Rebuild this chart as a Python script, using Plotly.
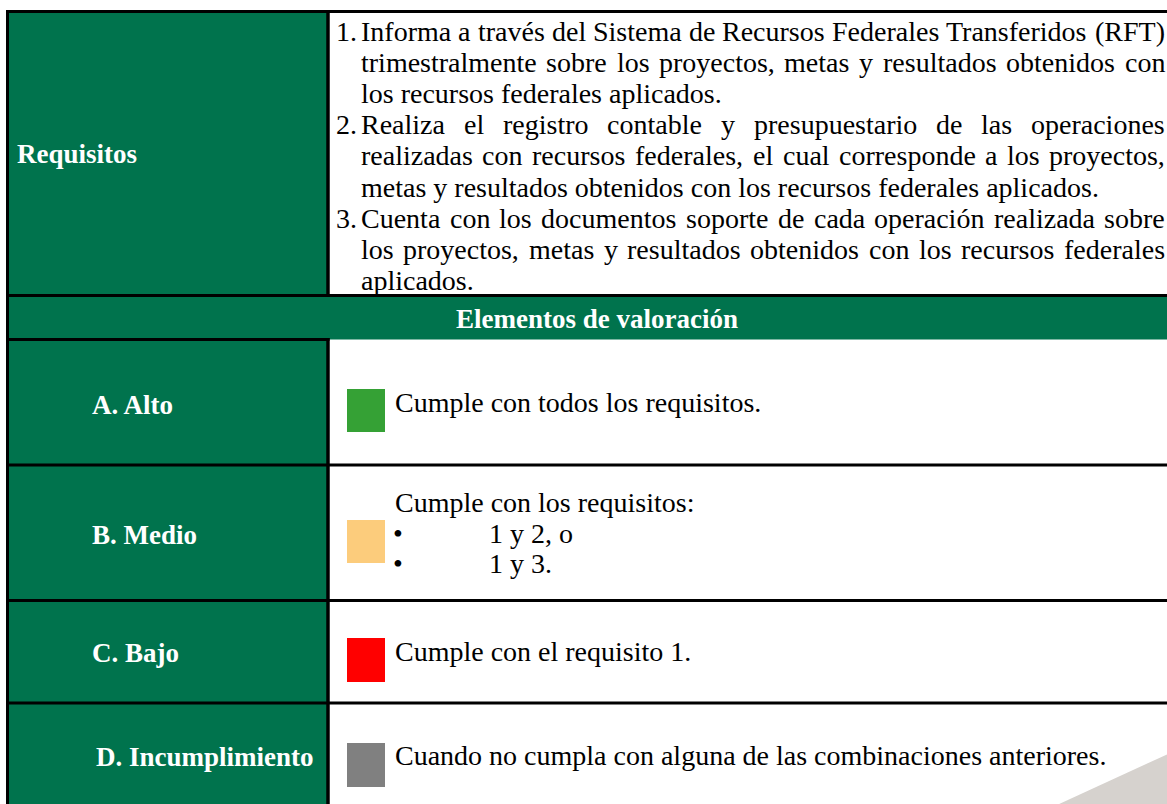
import plotly.graph_objects as go

W, H = 1167, 804

# ---------------- data (text content) ----------------
req_label = "Requisitos"
req_numbers = ["1.", "2.", "3."]
req_item1 = ["Informa a través del Sistema de Recursos Federales Transferidos (RFT)",
             "trimestralmente sobre los proyectos, metas y resultados obtenidos con",
             "los recursos federales aplicados."]
req_item2 = ["Realiza el registro contable y presupuestario de las operaciones",
             "realizadas con recursos federales, el cual corresponde a los proyectos,",
             "metas y resultados obtenidos con los recursos federales aplicados."]
req_item3 = ["Cuenta con los documentos soporte de cada operación realizada sobre",
             "los proyectos, metas y resultados obtenidos con los recursos federales",
             "aplicados."]
header_label = "Elementos de valoración"
levels = ["A. Alto", "B. Medio", "C. Bajo", "D. Incumplimiento"]
level_colors = ["#35A135", "#FCCC7C", "#FF0000", "#808080"]
level_texts = [["Cumple con todos los requisitos."],
               ["Cumple con los requisitos:"],
               ["Cumple con el requisito 1."],
               ["Cuando no cumpla con alguna de las combinaciones anteriores."]]
medio_bullets = ["1 y 2, o", "1 y 3."]

# ---------------- style ----------------
GREEN = "#00734D"
BODY_FONT = "Liberation Serif"
BODY_SIZE = 28
LABEL_SIZE = 27

TIMES = {' ': 250, ',': 250, '.': 250, '(': 333, ')': 333, ':': 278,
         'A': 722, 'B': 667, 'C': 667, 'D': 722, 'E': 611, 'F': 556, 'G': 722, 'H': 722,
         'I': 333, 'J': 389, 'K': 722, 'L': 611, 'M': 889, 'N': 722, 'O': 722, 'P': 556,
         'Q': 722, 'R': 667, 'S': 556, 'T': 611, 'U': 722, 'V': 722, 'W': 944, 'X': 722,
         'Y': 722, 'Z': 611,
         'a': 444, 'b': 500, 'c': 444, 'd': 500, 'e': 444, 'f': 333, 'g': 500, 'h': 500,
         'i': 278, 'j': 278, 'k': 500, 'l': 278, 'm': 778, 'n': 500, 'o': 500, 'p': 500,
         'q': 500, 'r': 333, 's': 389, 't': 278, 'u': 500, 'v': 500, 'w': 722, 'x': 500,
         'y': 500, 'z': 444, 'á': 444, 'é': 444, 'í': 278, 'ó': 500, 'ú': 500, 'ñ': 500}


def tw(s, size):
    return sum(TIMES.get(c, 500) for c in s) / 1000.0 * size


fig = go.Figure()
shapes = []
annotations = []


def rect(x0, y0, x1, y1, color):
    shapes.append(dict(type="rect", xref="x", yref="y", x0=x0, y0=y0, x1=x1, y1=y1,
                       fillcolor=color, line=dict(width=0), layer="below"))


def hline(y, x0, x1, w=3):
    shapes.append(dict(type="line", xref="x", yref="y", x0=x0, x1=x1, y0=y, y1=y,
                       line=dict(color="black", width=w)))


def vline(x, y0, y1, w=3):
    shapes.append(dict(type="line", xref="x", yref="y", x0=x, x1=x, y0=y0, y1=y1,
                       line=dict(color="black", width=w)))


def text(x, baseline, s, anchor="left", size=BODY_SIZE, bold=False, color="black"):
    yc = baseline - 0.3375 * size
    annotations.append(dict(x=x, y=yc, xref="x", yref="y", text=("<b>%s</b>" % s) if bold else s,
                            showarrow=False, xanchor=anchor, yanchor="middle",
                            borderpad=0, borderwidth=0,
                            font=dict(family=BODY_FONT, size=size, color=color)))


def justified(x0, x1, baseline, line):
    words = line.split(" ")
    widths = [tw(w, BODY_SIZE) for w in words]
    gap = (x1 - x0 - sum(widths)) / (len(words) - 1)
    x = x0
    for i, w in enumerate(words):
        if i == len(words) - 1:
            text(x1, baseline, w, anchor="right")
        else:
            text(x, baseline, w)
        x += widths[i] + gap


# geometry
LEFT, DIV, RIGHT = 7.5, 328, 1175
TOP = 11.5
Y_REQ_END = 295.5
Y_HDR_END = 339.5
ROW_LINES = [465, 600.5, 703]

# backgrounds
rect(LEFT, TOP, DIV, H + 5, GREEN)
rect(LEFT, Y_REQ_END, RIGHT, Y_HDR_END, GREEN)

# decorative wedge at bottom right
shapes.append(dict(type="path", xref="x", yref="y",
                   path="M 1057 805 L 1170 753 L 1170 805 Z",
                   fillcolor="#D6D2CE", line=dict(width=0), layer="below"))

# borders
hline(TOP, LEFT - 1.5, RIGHT)
vline(LEFT, TOP - 1.5, H + 5)
vline(DIV, TOP, Y_REQ_END, 3.5)
vline(DIV, Y_HDR_END - 1.5, H + 5, 3.5)
hline(Y_REQ_END, LEFT - 1.5, RIGHT)
hline(Y_HDR_END, LEFT - 1.5, DIV + 1.5)
for yl in ROW_LINES:
    hline(yl, LEFT - 1.5, RIGHT, 3.2)

# Requisitos cell
text(17, 163, req_label, size=LABEL_SIZE, bold=True, color="white")
NUM_X, TXT_X, TXT_R = 336, 361, 1165
BASE0, STEP = 40.5, 31.2
k = 0
for num, item in zip(req_numbers, [req_item1, req_item2, req_item3]):
    for j, line in enumerate(item):
        b = BASE0 + STEP * k
        if j == 0:
            text(NUM_X, b, num)
        if j < len(item) - 1:
            justified(TXT_X, TXT_R, b, line)
        else:
            text(TXT_X, b, line)
        k += 1

# header
text(597, 328, header_label, anchor="center", size=LABEL_SIZE, bold=True, color="white")

# rating rows
label_base = [414, 544, 662, 766]
square_y = [(389, 432), (520, 563), (638, 682), (743, 787)]
text_base = [412, 512, 661, 765]
for i, lev in enumerate(levels):
    if i == 3:
        text(314, label_base[i], lev, anchor="right", size=LABEL_SIZE, bold=True, color="white")
    else:
        text(92, label_base[i], lev, size=LABEL_SIZE, bold=True, color="white")
    y0, y1 = square_y[i]
    rect(347, y0, 385, y1, level_colors[i])
    for s in level_texts[i]:
        text(395, text_base[i], s)

for j, s in enumerate(medio_bullets):
    b = 543 + 30 * j
    text(393, b, "•", size=28)
    text(489, b, s)

fig.update_layout(
    width=W, height=H,
    margin=dict(l=0, r=0, t=0, b=0),
    paper_bgcolor="white", plot_bgcolor="white",
    xaxis=dict(range=[0, W], visible=False, fixedrange=True),
    yaxis=dict(range=[H, 0], visible=False, fixedrange=True),
    shapes=shapes, annotations=annotations, showlegend=False,
)
fig.write_html("out.html", config={"displayModeBar": False},
               post_script="document.body.style.margin='0';document.body.style.overflow='hidden';")
